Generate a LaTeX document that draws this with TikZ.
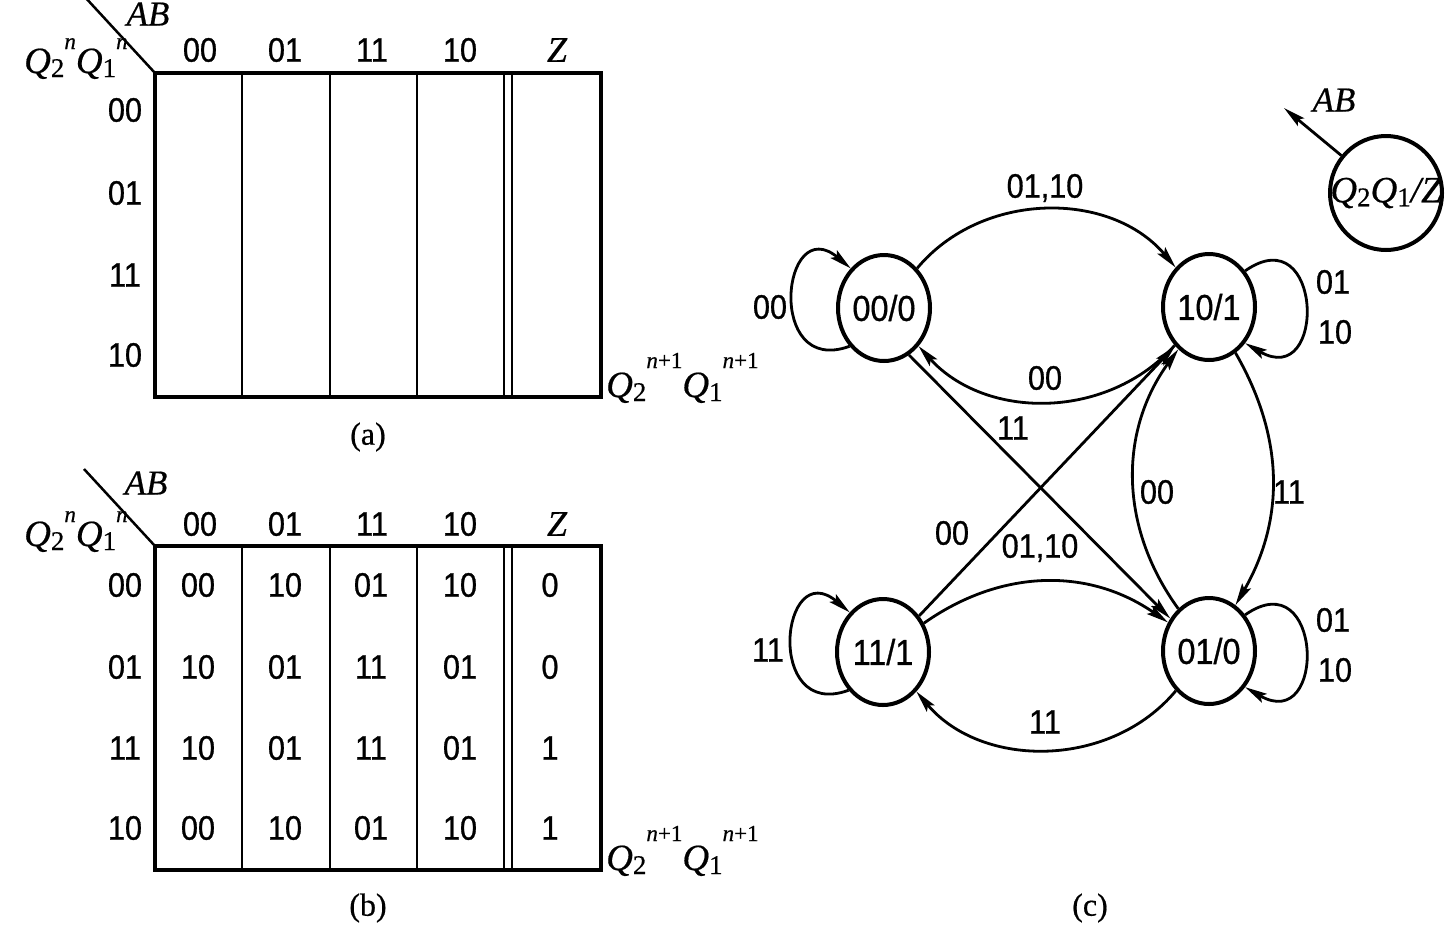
\documentclass[tikz,border=0pt]{standalone}
\usepackage{fontspec}
\setmainfont{Liberation Sans}[FakeStretch=0.9, FakeBold=0.8]
\newfontfamily\serifit{Liberation Serif}[FakeBold=0.5]
\usetikzlibrary{arrows.meta, shapes.geometric}

\newcommand\digits{\fontsize{34}{38}\selectfont}
\newcommand\capfont{\serifit\fontsize{32}{36}\selectfont}
\newcommand\qsub[1]{{\serifit\fontsize{37}{40}\selectfont\itshape Q}{\serifit\fontsize{27}{30}\selectfont\raisebox{-4pt}{#1}}}
\newcommand\qsup[2]{\raisebox{#1}{\serifit\fontsize{23}{26}\selectfont #2}}
\newcommand\abvar{{\serifit\fontsize{35}{38}\selectfont\itshape AB}}

\begin{document}
\begin{tikzpicture}[x=1pt, y=1pt,
    digit/.style={font=\digits, inner sep=0pt},
    tableframe/.style={line width=4pt},
    cellrule/.style={line width=2.5pt},
    stnode/.style={ellipse, draw, line width=4pt, minimum width=92pt, minimum height=106pt, inner sep=0pt, font=\fontsize{36}{40}\selectfont},
    trans/.style={-{Stealth[length=22pt, width=10pt, inset=4pt]}, line width=2.8pt},
    caption/.style={font=\capfont, inner sep=0pt}]
    \useasboundingbox (0,0) rectangle (1451,-938);

    % table (a)
    \draw[tableframe] (155,-73) rectangle (601,-397);
    \draw[cellrule] (242,-73) -- (242,-397);
    \draw[cellrule] (330,-73) -- (330,-397);
    \draw[cellrule] (417,-73) -- (417,-397);
    \draw[cellrule] (504,-73) -- (504,-397);
    \draw[cellrule] (512,-73) -- (512,-397);
    \draw[cellrule] (155,-73) -- (84,4);
    \node[inner sep=0pt] (abA) at (148,-14) {\abvar};
    \node[inner sep=0pt, anchor=base west] (qnA) at (24,-73) {\qsub{2}\qsup{24pt}{\itshape n}\qsub{1}\qsup{24pt}{\itshape n}};
    \node[digit] (hA1) at (200,-50) {00};
    \node[digit] (hA2) at (285,-50) {01};
    \node[digit] (hA3) at (372,-50) {11};
    \node[digit] (hA4) at (460,-50) {10};
    \node[inner sep=0pt] (hA5) at (557,-50) {\serifit\fontsize{36}{40}\selectfont\itshape Z};
    \node[digit] (rA1) at (125,-110) {00};
    \node[digit] (rA2) at (125,-193) {01};
    \node[digit] (rA3) at (125,-275) {11};
    \node[digit] (rA4) at (125,-355) {10};
    \node[inner sep=0pt, anchor=base west] (qpA) at (606,-397) {\qsub{2}\qsup{29pt}{\itshape n\upshape +1}\qsub{1}\qsup{29pt}{\itshape n\upshape +1}};
    \node[caption] (capA) at (368,-437) {(a)};

    % table (b)
    \draw[tableframe] (155,-546) rectangle (601,-870);
    \draw[cellrule] (242,-546) -- (242,-870);
    \draw[cellrule] (330,-546) -- (330,-870);
    \draw[cellrule] (417,-546) -- (417,-870);
    \draw[cellrule] (504,-546) -- (504,-870);
    \draw[cellrule] (512,-546) -- (512,-870);
    \draw[cellrule] (155,-546) -- (84,-469);
    \node[inner sep=0pt] (abB) at (146,-483) {\abvar};
    \node[inner sep=0pt, anchor=base west] (qnB) at (24,-546) {\qsub{2}\qsup{24pt}{\itshape n}\qsub{1}\qsup{24pt}{\itshape n}};
    \node[digit] (hB1) at (200,-524) {00};
    \node[digit] (hB2) at (285,-524) {01};
    \node[digit] (hB3) at (372,-524) {11};
    \node[digit] (hB4) at (460,-524) {10};
    \node[inner sep=0pt] (hB5) at (557,-524) {\serifit\fontsize{36}{40}\selectfont\itshape Z};
    \node[digit] (rB1) at (125,-585) {00};
    \node[digit] (rB2) at (125,-667) {01};
    \node[digit] (rB3) at (125,-748) {11};
    \node[digit] (rB4) at (125,-828) {10};
    \node[digit] (c11) at (198,-585) {00};
    \node[digit] (c12) at (285,-585) {10};
    \node[digit] (c13) at (371,-585) {01};
    \node[digit] (c14) at (460,-585) {10};
    \node[digit] (c15) at (550,-585) {0};
    \node[digit] (c21) at (198,-667) {10};
    \node[digit] (c22) at (285,-667) {01};
    \node[digit] (c23) at (371,-667) {11};
    \node[digit] (c24) at (460,-667) {01};
    \node[digit] (c25) at (550,-667) {0};
    \node[digit] (c31) at (198,-748) {10};
    \node[digit] (c32) at (285,-748) {01};
    \node[digit] (c33) at (371,-748) {11};
    \node[digit] (c34) at (460,-748) {01};
    \node[digit] (c35) at (550,-748) {1};
    \node[digit] (c41) at (198,-828) {00};
    \node[digit] (c42) at (285,-828) {10};
    \node[digit] (c43) at (371,-828) {01};
    \node[digit] (c44) at (460,-828) {10};
    \node[digit] (c45) at (550,-828) {1};
    \node[inner sep=0pt, anchor=base west] (qpB) at (606,-870) {\qsub{2}\qsup{29pt}{\itshape n\upshape +1}\qsub{1}\qsup{29pt}{\itshape n\upshape +1}};
    \node[caption] (capB) at (368,-908) {(b)};

    % state diagram (c)
    \node[stnode] (s00) at (884,-308) {\makebox[0pt]{00/0}};
    \node[stnode] (s10) at (1209,-307) {\makebox[0pt]{10/1}};
    \node[stnode] (s11) at (883,-652) {\makebox[0pt]{11/1}};
    \node[stnode] (s01) at (1209,-651) {\makebox[0pt]{01/0}};
    \node[stnode, minimum width=112pt, minimum height=114pt] (leg) at (1386,-193) {\makebox[0pt]{\qsub{2}\qsub{1}{\serifit\fontsize{37}{40}\selectfont\itshape /Z}}};
    \coordinate (abtip) at (1284,-108);
    \draw[trans] (leg.140) -- (abtip);
    \node[inner sep=0pt] (abC) at (1334,-100) {\abvar};

    \draw[trans] (s00) to[bend left=50] (s10);
    \draw[trans] (s10) to[bend left=48] (s00);
    \draw[trans] (s00.-62) -- (s01.140);
    \draw[trans] (s11.45) -- (s10.229);
    \draw[trans] (s11) to[bend left=35] (s01);
    \draw[trans] (s01) to[bend left=50] (s11);
    \draw[trans] (s01) to[bend left=36] (s10);
    \draw[trans] (s10) to[bend left=30] (s01);
    \draw[trans] (s00.228) .. controls +(200:90) and +(140:90) .. (s00.130);
    \draw[trans] (s11.228) .. controls +(200:90) and +(140:90) .. (s11.130);
    \draw[trans] (s10.45) .. controls +(35:95) and +(-30:95) .. (s10.-45);
    \draw[trans] (s01.45) .. controls +(35:95) and +(-30:95) .. (s01.-45);

    \node[digit] (t1) at (1045,-188) {01,10};
    \node[digit] (t2) at (1045,-378) {00};
    \node[digit] (t3) at (1013,-428) {11};
    \node[digit] (t4) at (952,-533) {00};
    \node[digit] (t5) at (1040,-548) {01,10};
    \node[digit] (t6) at (1045,-722) {11};
    \node[digit] (t7) at (1157,-492) {00};
    \node[digit] (t8) at (1289,-492) {11};
    \node[digit] (t9) at (770,-307) {00};
    \node[digit] (t10) at (1333,-282) {01};
    \node[digit] (t11) at (1335,-332) {10};
    \node[digit] (t12) at (768,-650) {11};
    \node[digit] (t13) at (1333,-620) {01};
    \node[digit] (t14) at (1335,-670) {10};
    \node[caption] (capC) at (1090,-908) {(c)};
\end{tikzpicture}
\end{document}
